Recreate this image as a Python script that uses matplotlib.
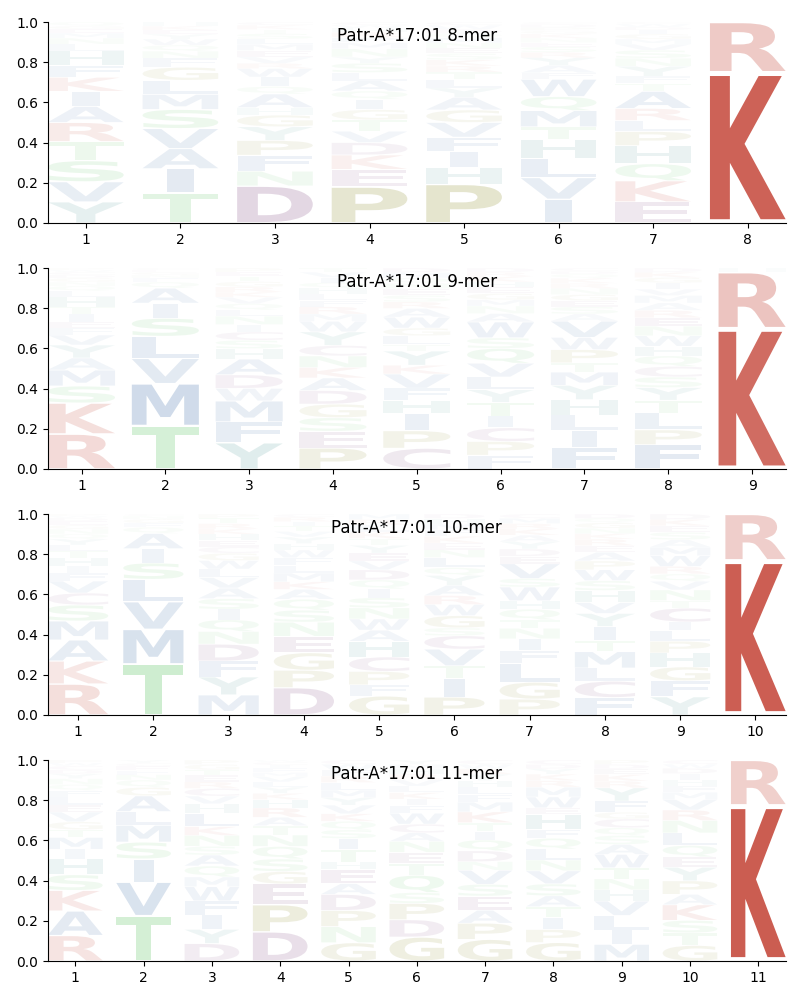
import numpy as np
import matplotlib

matplotlib.use("Agg")
import matplotlib.pyplot as plt  # noqa: E402
from matplotlib.textpath import TextPath  # noqa: E402
from matplotlib.patches import PathPatch  # noqa: E402
from matplotlib.font_manager import FontProperties  # noqa: E402
from matplotlib.transforms import Affine2D  # noqa: E402

ALLELE = "Patr-A*17:01"

# letters per position, bottom -> top, with their frequencies
MER8_LETTERS = [
    "YVSTRAIKFHLNMEGQ", "TIAVSMLGFNQWYEKH", "DNFPYGHAQIWRVEMLSTKC",
    "PEKDVTGIQALSYNMFRHWC", "PHIFVGAYLTRKSENMQDWC", "IVLHTMQWFAYRSENKGPDC",
    "EKQHPLRATFYNSVMGIDWC", "KR",
]
MER8_PROBS = [
    [.105, .10, .105, .095, .095, .08, .075, .07, .06, .07, .035, .03, .025, .02, .015, .02],
    [.15, .12, .10, .10, .095, .075, .07, .065, .045, .035, .03, .03, .025, .02, .02, .02],
    [.175, .07, .075, .07, .065, .055, .035, .065, .035, .045, .04, .025, .03, .03, .03, .025, .025, .02, .02, .015],
    [.175, .085, .07, .06, .055, .055, .05, .05, .04, .05, .04, .045, .03, .04, .03, .025, .025, .02, .015, .015],
    [.185, .08, .075, .07, .07, .06, .06, .045, .04, .035, .03, .03, .03, .025, .025, .025, .02, .02, .02, .015],
    [.11, .10, .09, .085, .06, .075, .065, .08, .03, .035, .035, .025, .025, .02, .02, .02, .015, .015, .015, .01],
    [.105, .105, .085, .09, .07, .055, .06, .085, .04, .035, .05, .04, .04, .03, .025, .025, .02, .015, .015, .01],
    [.75, .25],
]

MER9_LETTERS = [
    "RKSMAYVFEITHLQNGDCWP", "TMVLSIAQFNGEC", "YFMWDAHSCINLQVKRGTEP",
    "PESGDAKNCYWMRFLHQIVT", "CPIHFVKYTLGWARSENQMD", "FPCITYLVQSWANMGEHKRD",
    "FILHYMTPWVASEGNRKQDC", "FPLTYSCQHWNERAMVIGKD", "KRH",
]
MER9_PROBS = [
    [.175, .155, .085, .08, .06, .065, .05, .035, .03, .04, .035, .05, .03, .025, .02, .02, .015, .015, .01, .01],
    [.215, .21, .125, .11, .09, .075, .075, .03, .02, .015, .015, .01, .01],
    [.125, .10, .10, .06, .065, .075, .05, .04, .04, .035, .04, .03, .03, .03, .025, .025, .025, .025, .02, .02],
    [.10, .08, .065, .065, .065, .06, .05, .055, .05, .065, .05, .035, .035, .03, .03, .03, .025, .025, .025, .02],
    [.095, .08, .08, .06, .055, .065, .04, .065, .03, .04, .035, .05, .04, .03, .03, .03, .025, .025, .025, .02],
    [.065, .065, .065, .055, .065, .06, .06, .065, .07, .05, .075, .04, .035, .03, .03, .03, .025, .025, .02, .02],
    [.105, .085, .075, .075, .07, .065, .045, .065, .06, .08, .035, .035, .03, .03, .03, .025, .025, .02, .015, .015],
    [.115, .07, .08, .06, .06, .05, .05, .05, .045, .05, .045, .04, .035, .035, .035, .03, .03, .025, .025, .02],
    [.70, .28, .02],
]

MER10_LETTERS = [
    "RKAMSCVFIHTLYQNGEDWP", "TMVLSIAQFGNC", "MYFDNQISAVLWGCEHKRTP",
    "DPGENSQAKMLFWHYVTIRC", "GFPCHAWNSIQDVEYTKLRM", "PITVCSGWRAYQLNEKFMHD",
    "PGLFINTQHWSVEDYAKRMC", "FCLMTIYVHSWPAERKNGQD", "YFGHPLICTNVQRWMASEKD", "KR",
]
MER10_PROBS = [
    [.155, .115, .105, .095, .08, .06, .06, .04, .035, .04, .035, .03, .03, .025, .025, .02, .02, .015, .01, .01],
    [.25, .17, .135, .11, .08, .07, .075, .03, .02, .02, .015, .01],
    [.095, .085, .075, .08, .06, .055, .05, .05, .05, .05, .04, .04, .035, .03, .03, .03, .025, .025, .025, .02],
    [.125, .08, .08, .075, .065, .055, .05, .045, .035, .04, .035, .035, .035, .03, .03, .025, .025, .02, .02, .015],
    [.085, .05, .06, .065, .07, .05, .05, .05, .045, .04, .04, .045, .04, .035, .035, .03, .03, .03, .025, .025],
    [.08, .085, .055, .075, .06, .035, .055, .05, .04, .045, .045, .035, .045, .035, .03, .03, .03, .025, .025, .02],
    [.075, .08, .09, .06, .055, .05, .04, .05, .04, .065, .04, .07, .035, .035, .035, .03, .03, .025, .025, .02],
    [.08, .075, .06, .075, .05, .065, .06, .05, .055, .045, .05, .04, .04, .03, .03, .025, .025, .025, .02, .02],
    [.085, .075, .065, .065, .055, .05, .04, .065, .035, .05, .04, .035, .035, .05, .04, .035, .035, .03, .03, .025],
    [.77, .23],
]

MER11_LETTERS = [
    "RAKSHIMTGVELFQNYDCWP", "TVISMLAGQNFECY", "DYIFWMQASNKLHVCRETGP",
    "DPEGSQNTARHKYLVMFICW", "GNPDAEHTISQKVYMLRFWC", "GDPSQTENACWFIKLVRHMY",
    "GPAESVNDQITKMFLHYRWC", "GPITASVNLQFHEWMRKYDC", "MILVHNTWASQCGFYRKEDP",
    "GTSKAPYEQLNRVMFHIDWC", "KR",
]
MER11_PROBS = [
    [.13, .125, .105, .08, .08, .05, .06, .04, .04, .05, .035, .04, .035, .03, .03, .025, .02, .02, .015, .015],
    [.215, .16, .11, .08, .08, .065, .075, .04, .035, .025, .02, .02, .015, .015],
    [.08, .065, .065, .065, .065, .045, .05, .05, .04, .05, .04, .06, .045, .035, .035, .03, .03, .025, .025, .02],
    [.14, .13, .10, .06, .06, .06, .055, .045, .04, .045, .04, .03, .03, .025, .025, .02, .02, .015, .015, .01],
    [.085, .075, .075, .075, .05, .065, .035, .06, .05, .04, .04, .035, .04, .035, .035, .035, .03, .03, .025, .02],
    [.11, .08, .075, .05, .08, .055, .05, .05, .04, .04, .05, .035, .03, .03, .03, .03, .025, .025, .02, .02],
    [.10, .075, .06, .065, .055, .065, .04, .05, .05, .04, .04, .05, .045, .035, .035, .03, .03, .025, .02, .02],
    [.085, .06, .055, .05, .05, .055, .06, .05, .05, .05, .04, .07, .03, .05, .045, .03, .03, .025, .02, .02],
    [.075, .065, .065, .065, .05, .05, .05, .06, .045, .04, .035, .04, .03, .05, .06, .03, .03, .025, .02, .02],
    [.075, .06, .06, .075, .05, .065, .065, .05, .055, .06, .06, .05, .05, .035, .03, .03, .03, .025, .02, .02],
    [.775, .225],
]

PANELS = [
    ("8-mer", MER8_LETTERS, MER8_PROBS),
    ("9-mer", MER9_LETTERS, MER9_PROBS),
    ("10-mer", MER10_LETTERS, MER10_PROBS),
    ("11-mer", MER11_LETTERS, MER11_PROBS),
]

# amino acid colour groups
AA_GROUPS = {
    "DEC": (0.42, 0.16, 0.42),
    "PG": (0.47, 0.47, 0.0),
    "MIWALFV": (0.13, 0.35, 0.61),
    "NTSQ": (0.25, 0.73, 0.28),
    "RK": (0.74, 0.18, 0.12),
    "HY": (0.09, 0.47, 0.46),
}
AA_COLOR = {aa: col for grp, col in AA_GROUPS.items() for aa in grp}

FP = FontProperties(family="DejaVu Sans", weight="bold")
WIDTH = 0.8
VPAD = 0.05
# narrow glyphs (I, ...) are not stretched wider than an 'E' would be
MAX_HSTRETCH = WIDTH / TextPath((0, 0), "E", size=1, prop=FP).get_extents().width


def _draw_glyph(ax, ch, x, floor, height, alpha):
    path = TextPath((0, 0), ch, size=1, prop=FP)
    ext = path.get_extents()
    hs = min(WIDTH / ext.width, MAX_HSTRETCH)
    w = ext.width * hs
    h = height * (1 - VPAD)
    tr = (
        Affine2D()
        .translate(-ext.x0, -ext.y0)
        .scale(hs, h / ext.height)
        .translate(x - w / 2, floor + height * VPAD / 2)
    )
    ax.add_patch(PathPatch(tr.transform_path(path), facecolor=AA_COLOR[ch],
                           edgecolor="none", alpha=float(np.clip(alpha, 0, 1))))


def draw_logo(ax, letters, probs, title):
    for i, (seq, p) in enumerate(zip(letters, probs)):
        p = np.asarray(p, dtype=float)
        p = p / p.sum()
        floor = 0.0
        for ch, h in zip(seq, p):
            _draw_glyph(ax, ch, i + 1, floor, h, h)
            floor += h
    n = len(letters)
    ax.set_xlim(1 - WIDTH / 2, n + WIDTH / 2)
    ax.set_ylim(0, 1)
    ax.set_xticks(np.arange(1, n + 1))
    ax.set_yticks(np.arange(0, 1.01, 0.2))
    ax.spines["top"].set_visible(False)
    ax.spines["right"].set_visible(False)
    ax.text(0.5, 0.93, title, transform=ax.transAxes, ha="center", va="center", fontsize=12)


fig, axes = plt.subplots(4, 1, figsize=(8, 10))
fig.subplots_adjust(left=0.06, right=0.982, top=0.978, bottom=0.039, hspace=0.224)
for ax, (tag, letters, probs) in zip(axes, PANELS):
    draw_logo(ax, letters, probs, f"{ALLELE} {tag}")

fig.savefig("out.png", dpi=100)
plt.close(fig)
